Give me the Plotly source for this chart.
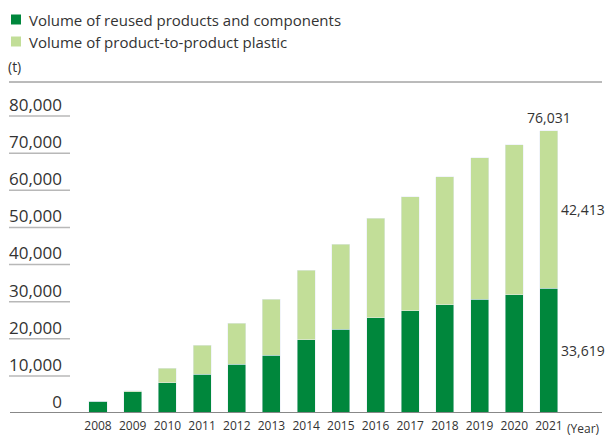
import plotly.graph_objects as go

# Annual recycling volumes (t)
years = list(range(2008, 2022))
reused = [3200, 5700, 8200, 10500, 13200, 15600, 19700, 22600, 25600,
          27500, 29100, 30700, 31800, 33619]
plastic = [0, 250, 3800, 7800, 11000, 15100, 18800, 22900, 26900,
           30700, 34500, 38000, 40400, 42413]
total_2021 = 76031

y_ticks = [0, 10000, 20000, 30000, 40000, 50000, 60000, 70000, 80000]

DARK = "#00873c"
LIGHT = "#c2de98"
TEXT = "#333333"
FONT = "Open Sans"

W, H = 606, 437
ML, MR, MT, MB = 70, 4, 0, 24

fig = go.Figure()
fig.add_bar(x=years, y=reused, marker_color=DARK, width=0.52,
            name="Volume of reused products and components", showlegend=False)
fig.add_bar(x=years, y=plastic, marker_color=LIGHT, width=0.52,
            name="Volume of product-to-product plastic", showlegend=False)

pw = W - ML - MR
def px_to_paper_x(px):
    return (px - ML) / pw

ph = H - MT - MB
def px_to_paper_y(py):
    return (H - MB - py) / ph

shapes = []
# short rules under each value label
for v in y_ticks[1:]:
    shapes.append(dict(type="line", xref="paper", yref="y",
                       x0=px_to_paper_x(9), x1=px_to_paper_x(70), y0=v, y1=v,
                       line=dict(color="#b8b8b8", width=1.5)))
# baseline
shapes.append(dict(type="line", xref="paper", yref="y",
                   x0=px_to_paper_x(10), x1=px_to_paper_x(602), y0=0, y1=0,
                   line=dict(color="#888888", width=2), layer="above"))
# rule under the unit label
shapes.append(dict(type="line", xref="paper", yref="paper",
                   x0=px_to_paper_x(9), x1=px_to_paper_x(602),
                   y0=px_to_paper_y(82), y1=px_to_paper_y(82),
                   line=dict(color="#777777", width=1)))

annotations = []
# legend
legend_items = [("Volume of reused products and components", DARK, 19.5),
                ("Volume of product-to-product plastic", LIGHT, 41.5)]
for label, color, cy in legend_items:
    shapes.append(dict(type="rect", xref="paper", yref="paper",
                       x0=px_to_paper_x(11), x1=px_to_paper_x(21),
                       y0=px_to_paper_y(cy - 5), y1=px_to_paper_y(cy + 5),
                       fillcolor=color, line=dict(width=0)))
    annotations.append(dict(text=label, xref="paper", yref="paper",
                            x=px_to_paper_x(27), y=px_to_paper_y(cy),
                            xanchor="left", yanchor="middle", showarrow=False,
                            font=dict(size=15, color=TEXT, family=FONT)))

annotations.append(dict(text="(t)", xref="paper", yref="paper",
                        x=px_to_paper_x(6), y=px_to_paper_y(66),
                        xanchor="left", yanchor="middle", showarrow=False,
                        font=dict(size=14, color=TEXT, family=FONT)))

annotations.append(dict(text="(Year)", xref="paper", yref="paper",
                        x=px_to_paper_x(565), y=px_to_paper_y(428),
                        xanchor="left", yanchor="middle", showarrow=False,
                        font=dict(size=12, color=TEXT, family=FONT)))

# value labels for the latest year
last = years[-1]
annotations.append(dict(text=f"{total_2021:,}", x=last, y=reused[-1] + plastic[-1],
                        xanchor="center", yanchor="bottom", yshift=2,
                        showarrow=False, font=dict(size=14, color=TEXT, family=FONT)))
annotations.append(dict(text=f"{plastic[-1]:,}", x=last + 0.26,
                        y=reused[-1] + plastic[-1] / 2,
                        xanchor="left", yanchor="middle", xshift=1,
                        showarrow=False, font=dict(size=14, color=TEXT, family=FONT)))
annotations.append(dict(text=f"{reused[-1]:,}", x=last + 0.26, y=reused[-1] / 2,
                        xanchor="left", yanchor="middle", xshift=1,
                        showarrow=False, font=dict(size=14, color=TEXT, family=FONT)))

x0 = 2008 - (98 - ML) / 34.69
x1 = 2008 + (602 - 98) / 34.69

fig.update_layout(
    width=W, height=H, barmode="stack",
    margin=dict(l=ML, r=MR, t=MT, b=MB),
    paper_bgcolor="white", plot_bgcolor="white",
    font=dict(family=FONT, color=TEXT),
    xaxis=dict(range=[x0, x1], tickvals=years, ticktext=[str(y) for y in years],
               showgrid=False, zeroline=False, showline=False, ticks="",
               ticklabelstandoff=4,
               tickfont=dict(size=12, color=TEXT, family=FONT), fixedrange=True),
    yaxis=dict(range=[0, 111250], tickvals=y_ticks, tickformat=",",
               showgrid=False, zeroline=False, showline=False, ticks="",
               ticklabelshift=-11, ticklabelstandoff=7,
               tickfont=dict(size=17, color=TEXT, family=FONT), fixedrange=True),
    shapes=shapes, annotations=annotations, bargap=0.48,
)

fig.write_html("out.html")
